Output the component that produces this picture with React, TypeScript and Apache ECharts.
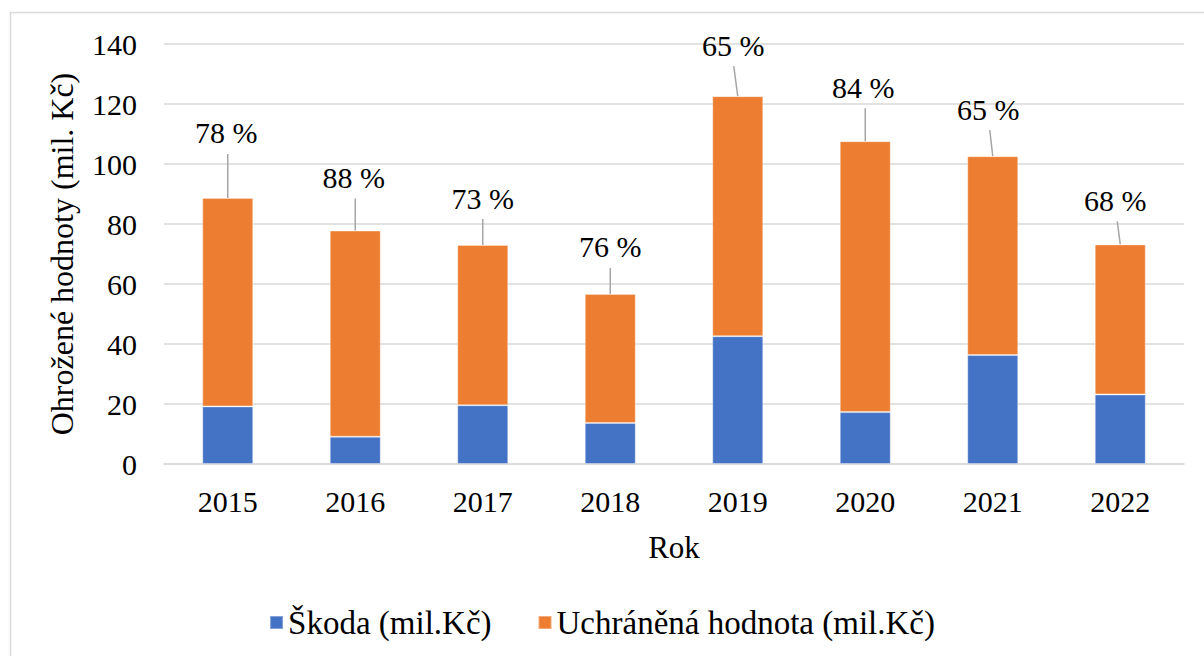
import React, { useEffect, useRef } from "react";
import * as echarts from "echarts";

const years = ["2015", "2016", "2017", "2018", "2019", "2020", "2021", "2022"];
const skoda = [19.2, 9.1, 19.6, 13.7, 42.6, 17.3, 36.3, 23.2];
const uchraneno = [69.5, 68.7, 53.4, 43.0, 80.0, 90.3, 66.3, 50.0];
const pctLabels = ["78 %", "88 %", "73 %", "76 %", "65 %", "84 %", "65 %", "68 %"];
const yTicks = [0, 20, 40, 60, 80, 100, 120, 140];

// label layout (pixels): rise of label centre above bar top, horizontal shift of label, shift of leader top
const labelRise = [65, 53, 47, 47, 51, 54, 47, 44];
const labelShift = [-1.5, -1.5, 0, 0, -4.5, -2, -4.5, -5];
const leaderShift = [0, 0, 0, 0, -4, 0, -3, -3];

const FONT = "'Times New Roman', 'Liberation Serif', 'DejaVu Serif', serif";

export default function App() {
  const ref = useRef<HTMLDivElement>(null);
  useEffect(() => {
    if (!ref.current) return;
    const chart = echarts.init(ref.current, null, { renderer: "svg" });
    const labelData = years.map((_, i) => [
      i,
      skoda[i] + uchraneno[i],
      labelRise[i],
      labelShift[i],
      leaderShift[i],
    ]);
    chart.setOption({
      animation: false,
      backgroundColor: "#ffffff",
      textStyle: { fontFamily: FONT },
      graphic: [
        {
          type: "rect",
          shape: { x: 10.5, y: 12.5, width: 1300, height: 1000 },
          style: { fill: "none", stroke: "#d9d9d9", lineWidth: 1.5 },
          silent: true,
          z: -10,
        },
      ],
      grid: { left: 164, right: 20, top: 44, bottom: 192, containLabel: false },
      legend: {
        bottom: 12,
        left: "center",
        itemWidth: 13,
        itemHeight: 13,
        itemGap: 46,
        icon: "rect",
        textStyle: { fontFamily: FONT, fontSize: 33, color: "#000" },
        data: ["Škoda (mil.Kč)", "Uchráněná hodnota (mil.Kč)"],
      },
      xAxis: {
        type: "category",
        data: years,
        name: "Rok",
        nameLocation: "middle",
        nameGap: 68,
        nameTextStyle: { fontFamily: FONT, fontSize: 31, color: "#000" },
        axisLine: { show: true, lineStyle: { color: "#d9d9d9", width: 1.5 } },
        axisTick: { show: false },
        axisLabel: { fontFamily: FONT, fontSize: 30, color: "#000", margin: 22 },
      },
      yAxis: {
        type: "value",
        min: 0,
        max: 140,
        interval: 20,
        name: "Ohrožené hodnoty (mil. Kč)",
        nameLocation: "middle",
        nameGap: 86,
        nameTextStyle: { fontFamily: FONT, fontSize: 32, color: "#000" },
        axisLine: { show: false },
        axisTick: { show: false },
        splitLine: { lineStyle: { color: "#d9d9d9", width: 1.5 } },
        axisLabel: {
          fontFamily: FONT,
          fontSize: 30,
          color: "#000",
          margin: 27,
          formatter: (v: number) => (yTicks.includes(v) ? String(v) : ""),
        },
      },
      series: [
        {
          name: "Škoda (mil.Kč)",
          type: "bar",
          stack: "total",
          data: skoda,
          barCategoryGap: "60%",
          itemStyle: { color: "#4472C4", borderColor: "rgba(255,255,255,0.35)", borderWidth: 1 },
        },
        {
          name: "Uchráněná hodnota (mil.Kč)",
          type: "bar",
          stack: "total",
          data: uchraneno,
          barCategoryGap: "60%",
          itemStyle: { color: "#ED7D31", borderColor: "rgba(255,255,255,0.35)", borderWidth: 1 },
        },
        {
          name: "labels",
          type: "custom",
          data: labelData,
          silent: true,
          z: 5,
          renderItem: (params: any, api: any) => {
            const i = api.value(0);
            const total = api.value(1);
            const rise = api.value(2);
            const lShift = api.value(3);
            const leadShift = api.value(4);
            const p = api.coord([i, total]);
            const cy = p[1] - rise;
            return {
              type: "group",
              children: [
                {
                  type: "line",
                  shape: { x1: p[0], y1: p[1], x2: p[0] + leadShift, y2: cy + 21 },
                  style: { stroke: "#a6a6a6", lineWidth: 1.5 },
                },
                {
                  type: "text",
                  style: {
                    text: pctLabels[i],
                    x: p[0] + lShift,
                    y: cy,
                    align: "center",
                    verticalAlign: "middle",
                    fontFamily: FONT,
                    fontSize: 30,
                    fill: "#000",
                  },
                },
              ],
            };
          },
        },
      ],
    });
    return () => chart.dispose();
  }, []);
  return (
    <div
      ref={ref}
      style={{ position: "fixed", left: 0, top: 0, width: 1204, height: 656 }}
    />
  );
}
